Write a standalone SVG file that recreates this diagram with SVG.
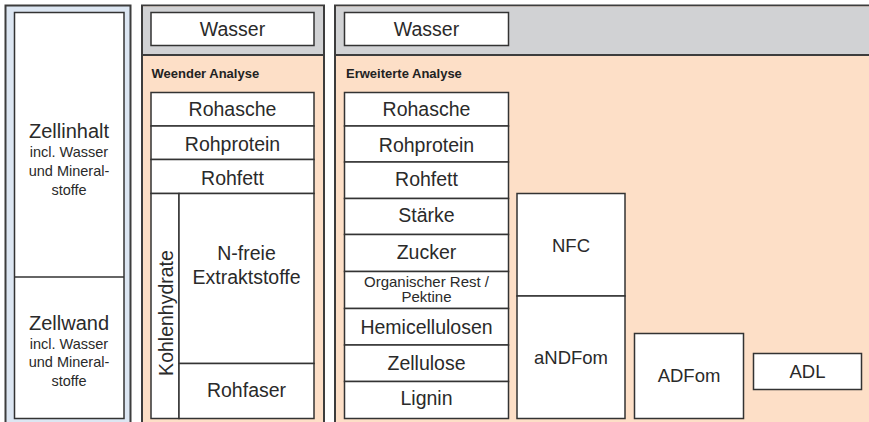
<svg xmlns="http://www.w3.org/2000/svg" width="869" height="422" viewBox="0 0 869 422">
<style>
.frame{stroke:#3d3d3d;stroke-width:2}
.box{fill:#ffffff;stroke:#333333;stroke-width:1.5}
.line{stroke:#333333;stroke-width:1.5}
.t{font-family:"Liberation Sans",Arial,sans-serif;font-size:19.5px;fill:#2a2a2a;text-anchor:middle}
.m{font-family:"Liberation Sans",Arial,sans-serif;font-size:18.5px;fill:#2a2a2a;text-anchor:middle}
.s{font-family:"Liberation Sans",Arial,sans-serif;font-size:14.5px;fill:#2a2a2a;text-anchor:middle}
.xs{font-family:"Liberation Sans",Arial,sans-serif;font-size:15px;fill:#2a2a2a;text-anchor:middle}
.h{font-family:"Liberation Sans",Arial,sans-serif;font-size:13px;font-weight:bold;fill:#222222}
</style>
<rect width="869" height="422" fill="#ffffff"/>

<g id="zellpanel">
<rect class="frame" x="5.5" y="5.5" width="125" height="425" fill="#dce6f2"/>
<rect class="box" x="14.5" y="12.5" width="109.5" height="406"/>
<line class="line" x1="14.5" y1="277" x2="124" y2="277"/>
</g>
<g id="zellinhalt">
<text class="t" x="69" y="138" style="font-size:20px">Zellinhalt</text>
<text class="s" x="69" y="157">incl. Wasser</text>
<text class="s" x="69" y="176">und Mineral-</text>
<text class="s" x="69" y="194.5">stoffe</text>
</g>
<g id="zellwand">
<text class="t" x="69" y="330" style="font-size:20px">Zellwand</text>
<text class="s" x="69" y="348.5">incl. Wasser</text>
<text class="s" x="69" y="367">und Mineral-</text>
<text class="s" x="69" y="385.5">stoffe</text>
</g>

<g id="weender">
<rect class="frame" x="142" y="5.5" width="182" height="425" fill="#fddfc7"/>
<rect x="143" y="6.5" width="180" height="48.5" fill="#d1d2d4"/>
<line class="frame" x1="142" y1="55" x2="324" y2="55"/>
<text class="h" x="151.5" y="78">Weender Analyse</text>
</g>
<g id="wasser1">
<rect class="box" x="151" y="12.5" width="163" height="33"/>
<text class="t" x="232.5" y="35.5">Wasser</text>
</g>
<g id="w-rohasche">
<rect class="box" x="151" y="92.5" width="163" height="33.5"/>
<text class="t" x="232.5" y="116">Rohasche</text>
</g>
<g id="w-rohprotein">
<rect class="box" x="151" y="126" width="163" height="33.5"/>
<text class="t" x="232.5" y="150.5">Rohprotein</text>
</g>
<g id="w-rohfett">
<rect class="box" x="151" y="159.5" width="163" height="34"/>
<text class="t" x="232.5" y="184.5">Rohfett</text>
</g>
<g id="w-kohlenhydrate">
<rect class="box" x="151" y="193.5" width="28" height="225"/>
<text class="t" transform="translate(172.5 313) rotate(-90)" x="0" y="0">Kohlenhydrate</text>
</g>
<g id="w-nfreie">
<rect class="box" x="179" y="193.5" width="135" height="170"/>
<text class="t" x="246.5" y="260">N-freie</text>
<text class="t" x="246.5" y="283.5">Extraktstoffe</text>
</g>
<g id="w-rohfaser">
<rect class="box" x="179" y="363.5" width="135" height="55"/>
<text class="t" x="246.5" y="397">Rohfaser</text>
</g>

<g id="erweitert">
<rect class="frame" x="335" y="5.5" width="545" height="425" fill="#fddfc7"/>
<rect x="336" y="6.5" width="540" height="48.5" fill="#d1d2d4"/>
<line class="frame" x1="335" y1="55" x2="869" y2="55"/>
<text class="h" x="346" y="78">Erweiterte Analyse</text>
</g>
<g id="wasser2">
<rect class="box" x="344.5" y="12.5" width="164" height="33"/>
<text class="t" x="426.5" y="35.5">Wasser</text>
</g>
<g id="e-rohasche">
<rect class="box" x="344.5" y="92.5" width="164" height="33.5"/>
<text class="t" x="426.5" y="116">Rohasche</text>
</g>
<g id="e-rohprotein">
<rect class="box" x="344.5" y="126" width="164" height="36"/>
<text class="t" x="426.5" y="151.5">Rohprotein</text>
</g>
<g id="e-rohfett">
<rect class="box" x="344.5" y="162" width="164" height="36.5"/>
<text class="t" x="426.5" y="185.5">Rohfett</text>
</g>
<g id="e-staerke">
<rect class="box" x="344.5" y="198.5" width="164" height="36"/>
<text class="t" x="426.5" y="222">Stärke</text>
</g>
<g id="e-zucker">
<rect class="box" x="344.5" y="234.5" width="164" height="37"/>
<text class="t" x="426.5" y="258.5">Zucker</text>
</g>
<g id="e-rest">
<rect class="box" x="344.5" y="271.5" width="164" height="37"/>
<text class="xs" x="426.5" y="286.5">Organischer Rest /</text>
<text class="xs" x="426.5" y="302">Pektine</text>
</g>
<g id="e-hemicellulosen">
<rect class="box" x="344.5" y="308.5" width="164" height="36.5"/>
<text class="t" x="426.5" y="333.5">Hemicellulosen</text>
</g>
<g id="e-zellulose">
<rect class="box" x="344.5" y="345" width="164" height="36.5"/>
<text class="t" x="426.5" y="370">Zellulose</text>
</g>
<g id="e-lignin">
<rect class="box" x="344.5" y="381.5" width="164" height="37"/>
<text class="t" x="426.5" y="404.5">Lignin</text>
</g>
<g id="nfc">
<rect class="box" x="517" y="193.5" width="108" height="102.5"/>
<text class="m" x="571" y="252">NFC</text>
</g>
<g id="andfom">
<rect class="box" x="517" y="296" width="108" height="122.5"/>
<text class="m" x="571" y="363.5">aNDFom</text>
</g>
<g id="adfom">
<rect class="box" x="634.5" y="333.5" width="109" height="85"/>
<text class="m" x="689" y="382">ADFom</text>
</g>
<g id="adl">
<rect class="box" x="753.5" y="353.5" width="108" height="36"/>
<text class="m" x="807.5" y="377.5">ADL</text>
</g>
<g id="connectors"/>
</svg>
